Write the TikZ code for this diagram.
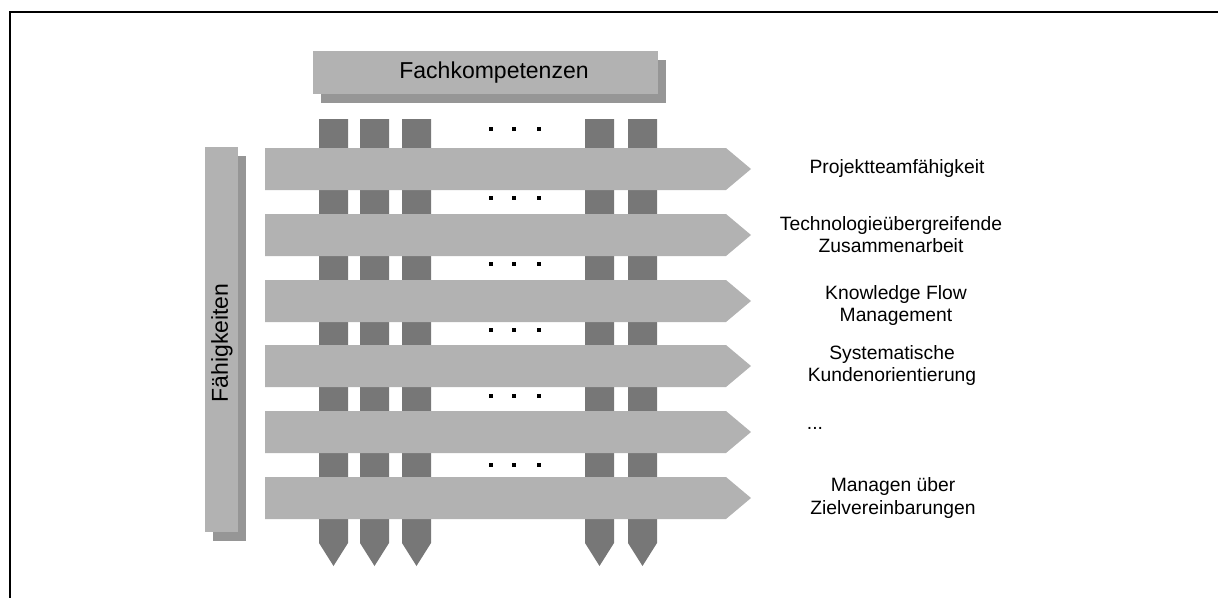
\documentclass[tikz,border=0pt]{standalone}
\usepackage{fontspec}
\setmainfont{Liberation Sans}
\definecolor{rowgray}{HTML}{B2B2B2}
\definecolor{shadegray}{HTML}{969696}
\definecolor{colgray}{HTML}{777777}
\begin{document}
\begin{tikzpicture}[x=1pt,y=-1pt,
  colarrow/.style={fill=colgray,draw=none},
  rowarrow/.style={fill=rowgray,draw=none},
  headbox/.style={fill=rowgray,draw=none},
  shadebox/.style={fill=shadegray,draw=none},
  dotmark/.style={fill=black,draw=none},
  lbl/.style={font=\fontsize{19.3}{22}\selectfont,align=center,text=black,inner sep=0pt},
  headlbl/.style={font=\fontsize{23}{26}\selectfont,text=black,inner sep=0pt}]
\useasboundingbox (0,0) rectangle (1218,598);
% frame
\draw[line width=2pt] (1218,12) -- (10,12) -- (10,598);
% header Fachkompetenzen
\fill[shadebox] (321,60) rectangle (666,103);
\fill[headbox] (313,51) rectangle (658,94);
\node[headlbl] (fach) at (494,73) {Fachkompetenzen};
% header Faehigkeiten
\fill[shadebox] (213,156) rectangle (246,541);
\fill[headbox] (205,147) rectangle (238,532);
\node[headlbl,rotate=90] (faeh) at (222,343) {Fähigkeiten};
% columns
\foreach \x in {319,360,402,585,628}{
  \fill[colarrow] (\x,119) -- (\x+29,119) -- (\x+29,543) -- (\x+14.5,566) -- (\x,543) -- cycle;
}
% dots
\foreach \y in {129,198,264,330,396,465}{
  \foreach \x in {491,514,539}{
    \fill[dotmark] (\x-2,\y-2) rectangle (\x+2,\y+2);
  }
}
% rows
\foreach \t in {148,214,280,345,411,477}{
  \fill[rowarrow] (265,\t) -- (726,\t) -- (751,\t+21) -- (726,\t+42) -- (265,\t+42) -- cycle;
}
% labels
\node[lbl] (l1) at (897,169) {Projektteamfähigkeit};
\node[lbl] (l2) at (891,235) {Technologieübergreifende\\Zusammenarbeit};
\node[lbl] (l3) at (896,306) {Knowledge Flow\\Management};
\node[lbl] (l4) at (892,366) {Systematische\\Kundenorientierung};
\node[lbl] (l5) at (815,428) {...};
\node[lbl] (l6) at (893,498) {Managen über\\Zielvereinbarungen};
\end{tikzpicture}
\end{document}
